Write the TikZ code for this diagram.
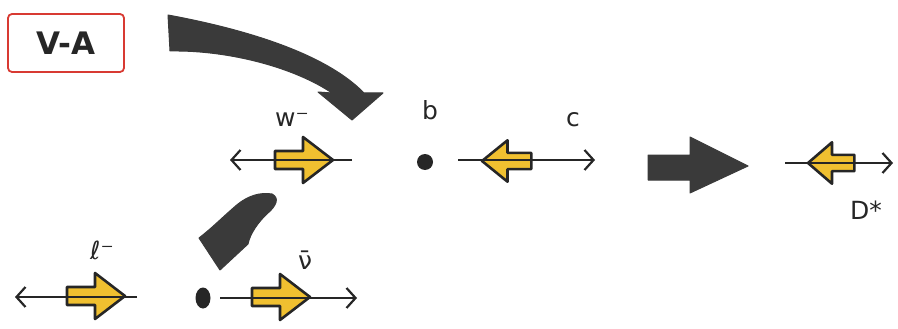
\documentclass[tikz,border=0pt]{standalone}
\usepackage{fontspec}
\setmainfont{DejaVu Sans}
\usetikzlibrary{arrows.meta,shapes.geometric}
\definecolor{ink}{HTML}{262626}
\definecolor{blk}{HTML}{3A3A3A}
\definecolor{yel}{HTML}{F0C030}
\definecolor{boxred}{HTML}{D83A32}
\tikzset{
  thin arrow/.style={draw=ink, line width=2.2pt, -{Straight Barb[length=9pt,width=20pt,line width=2.2pt]}},
  yarrow/.pic={\draw[fill=yel, draw=ink, line width=2.6pt, line join=round]
     (-58,-9) -- (-30,-9) -- (-30,-23) -- (0,0) -- (-30,23) -- (-30,9) -- (-58,9) -- cycle;},
  dotnode/.style={circle, fill=ink, inner sep=0pt, minimum size=16pt},
  lbl/.style={font=\fontsize{25}{27}\selectfont, text=ink, inner sep=1pt},
  bigarrow/.style={fill=blk, draw=blk, line width=1pt, line join=round}
}
\begin{document}
\begin{tikzpicture}[x=1pt,y=-1pt]
\useasboundingbox (0,0) rectangle (898,329);
% V-A box
\node[draw=boxred, line width=1.8pt, rounded corners=4pt, minimum width=116pt, minimum height=58pt,
      font=\fontsize{31}{33}\selectfont\bfseries, text=ink] (va) at (66,43) {V-A};
% big curved arrow
\draw[bigarrow] (168,15) .. controls (260,32) and (330,58) .. (364,93)
   -- (383,93) -- (352,120) -- (318,92) -- (332,93)
   .. controls (295,68) and (230,50) .. (170,51) -- cycle;
% row 1
\node[dotnode] (b) at (425,162) {};
\node[lbl] (blbl) at (430,110) {b};
\coordinate (wL) at (230,160);
\coordinate (wR) at (352,160);
\pic at (333,160) {yarrow};
\draw[thin arrow] (wR) -- (wL);
\node[lbl] (wlbl) at (292,120) {w⁻};
\coordinate (cL) at (458,160);
\coordinate (cR) at (595,160);
\pic[xscale=-0.85, yscale=0.9] at (482,161) {yarrow};
\draw[thin arrow] (cL) -- (cR);
\node[lbl] (clbl) at (573,120) {c};
% big straight arrow
\draw[bigarrow] (648,155) -- (690,155) -- (690,137) -- (748,166) -- (690,193) -- (690,180) -- (648,180) -- cycle;
\coordinate (dL) at (785,163);
\coordinate (dR) at (893,163);
\pic[xscale=-0.8, yscale=0.9] at (808,163) {yarrow};
\draw[thin arrow] (dL) -- (dR);
\node[lbl] (dlbl) at (866,210) {D*};
% row 2
\coordinate (lL) at (15,297);
\coordinate (lR) at (137,297);
\pic at (125,296) {yarrow};
\draw[thin arrow] (lR) -- (lL);
\node[lbl] (llbl) at (102,250) {ℓ⁻};
\node[ellipse, fill=ink, inner sep=0pt, minimum width=15pt, minimum height=21pt] (d2) at (203,298) {};
\coordinate (nL) at (220,298);
\coordinate (nR) at (357,298);
\pic at (310,297) {yarrow};
\draw[thin arrow] (nL) -- (nR);
\node[lbl] (nlbl) at (305,260) {ν̄};
% small curved arrow
\draw[bigarrow] (272,194) .. controls (260,192) and (248,196) .. (238,204)
  .. controls (226,214) and (214,226) .. (204,234) -- (199,238) -- (220,270) -- (248,244)
  .. controls (250,234) and (258,222) .. (268,213)
  .. controls (276,206) and (280,198) .. (272,194) -- cycle;
\end{tikzpicture}
\end{document}
